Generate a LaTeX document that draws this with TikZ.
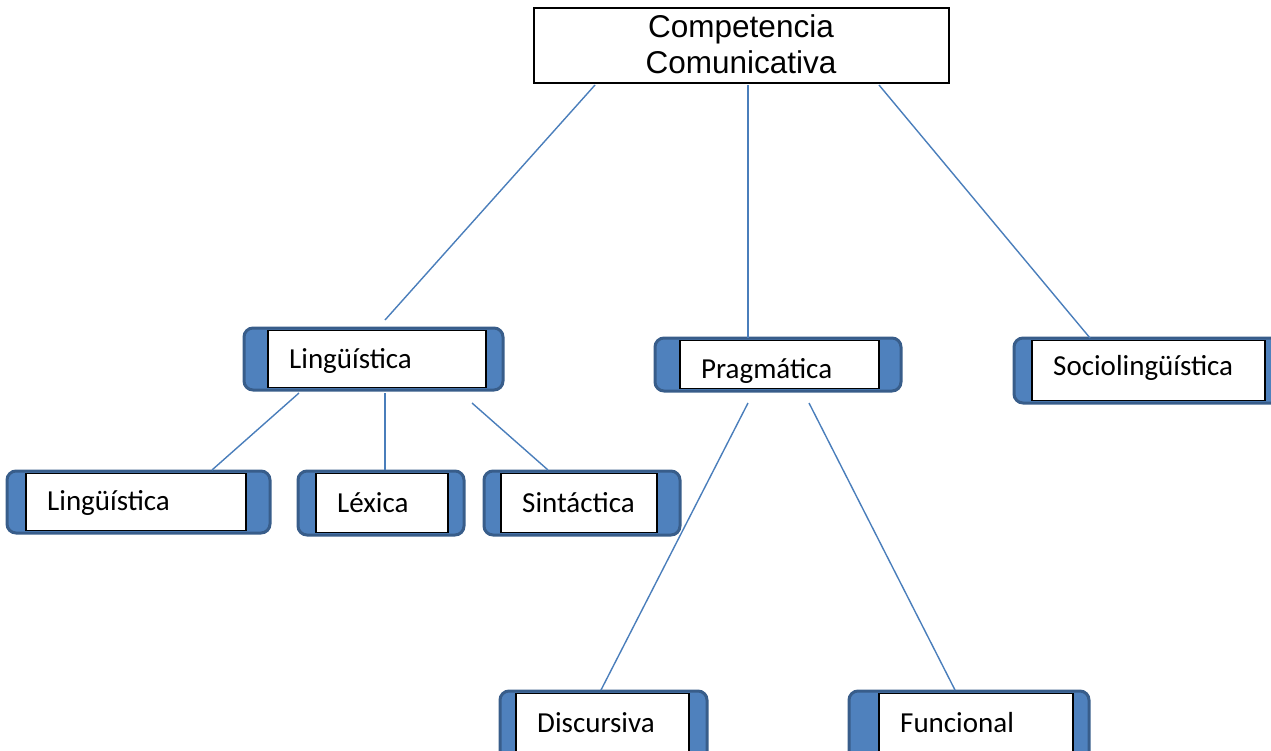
\documentclass[tikz,border=0pt]{standalone}
\usepackage{fontspec}
\setmainfont{Carlito}
\newfontfamily\arialf{Liberation Sans}
\usetikzlibrary{fit,calc}
\definecolor{boxblue}{HTML}{4F81BD}
\definecolor{boxedge}{HTML}{385D8A}
\definecolor{linkblue}{HTML}{4A7EBB}
\tikzset{
  outerst/.style={draw=boxedge, fill=boxblue, line width=3pt, rounded corners=9pt, inner sep=0pt},
  innerst/.style={draw=black, fill=white, line width=1.3pt, inner sep=0pt},
  labelst/.style={anchor=base west, inner sep=0pt, font=\fontsize{29}{34}\selectfont},
  link/.style={draw=linkblue, line width=1.4pt},
}
\newcommand\mybox[9]{%
  \node[outerst, fit={(#2,#3) (#4,#5)}] (#1) {};
  \node[innerst, fit={(#6,#3+2.5) (#7,#5-2.5)}] (#1w) {};
  \begin{scope}
    \clip (#1w.south west) rectangle (#1w.north east);
    \node[labelst] (#1t) at (#6+21,#8) {#9};
  \end{scope}
}
\begin{document}
\begin{tikzpicture}[x=1pt,y=-1pt]
\useasboundingbox (0,0) rectangle (1271,750);
% top node
\node[draw=black, fill=white, line width=1.5pt, inner sep=0pt, fit={(534,8) (949,83)}] (top) {};
\node[font=\arialf\fontsize{31.5}{36}\selectfont, align=center, anchor=base, inner sep=0pt] (toptext) at (741,73) {Competencia\\Comunicativa};
% boxes
\mybox{ling}{244}{328}{503}{390}{268}{486}{368}{Lingüística}
\mybox{pragm}{655}{338}{901}{391}{680}{879}{378}{Pragmática}
\mybox{socio}{1014}{338}{1290}{403}{1032}{1265}{375}{Sociolingüística}
\mybox{lingb}{7}{471}{270}{533}{26}{246}{510}{Lingüística}
\mybox{lexica}{298}{471}{464}{535}{316}{448}{512}{Léxica}
\mybox{sint}{484}{471}{680}{535}{501}{657}{512}{Sintáctica}
\mybox{disc}{500}{691}{707}{770}{516}{689}{732}{Discursiva}
\mybox{func}{849}{691}{1089}{770}{879}{1073}{732}{Funcional}
% connector end points
\coordinate (a1) at (595,85);  \coordinate (a2) at (385,320);
\coordinate (b1) at (748,85);  \coordinate (b2) at (748,338);
\coordinate (c1) at (879,85);  \coordinate (c2) at (1090,338);
\coordinate (d1) at (299,393); \coordinate (d2) at (212,470);
\coordinate (e1) at (385,393); \coordinate (e2) at (385,470);
\coordinate (f1) at (472,403); \coordinate (f2) at (548,470);
\coordinate (g1) at (748,403); \coordinate (g2) at (601,690);
\coordinate (h1) at (809,403); \coordinate (h2) at (955,690);
\draw[link] (a1) -- (a2);
\draw[link] (b1) -- (b2);
\draw[link] (c1) -- (c2);
\draw[link] (d1) -- (d2);
\draw[link] (e1) -- (e2);
\draw[link] (f1) -- (f2);
\draw[link] (g1) -- (g2);
\draw[link] (h1) -- (h2);
\end{tikzpicture}
\end{document}
